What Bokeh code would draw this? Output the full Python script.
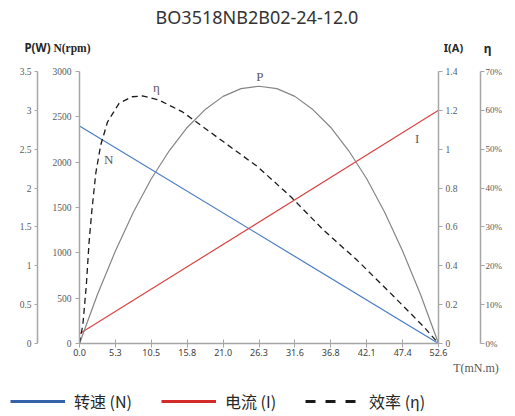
from bokeh.plotting import figure
from bokeh.layouts import column
from bokeh.models import Range1d, LinearAxis, FixedTicker, Label, Legend, LegendItem
from bokeh.core.properties import value
from bokeh.embed import file_html
from bokeh.resources import INLINE

# ---------------- data ----------------
title_text = "BO3518NB2B02-24-12.0"

x_ticks = [0, 5.26, 10.52, 15.78, 21.04, 26.3, 31.56, 36.82, 42.08, 47.34, 52.6]
x_tick_labels = ["0.0", "5.3", "10.5", "15.8", "21.0", "26.3", "31.6", "36.8", "42.1", "47.4", "52.6"]

speed_T = [0.0, 52.6]
speed_rpm = [2400, 0]

current_T = [0.0, 52.6]
current_A = [0.05, 1.2]

power_T = [0, 2.63, 5.26, 7.89, 10.52, 13.15, 15.78, 18.41, 21.04, 23.67, 26.3,
           28.93, 31.56, 34.19, 36.82, 39.45, 42.08, 44.71, 47.34, 49.97, 52.6]
power_W = [0, 0.63, 1.19, 1.69, 2.12, 2.48, 2.78, 3.01, 3.18, 3.28, 3.31,
           3.28, 3.18, 3.01, 2.78, 2.48, 2.12, 1.69, 1.19, 0.63, 0]

eff_T = [0, 0.5, 1.0, 1.4, 1.8, 2.4, 3.1, 4.1, 5.8, 7.7, 9.2, 11.6, 15.1,
         21.1, 26.1, 31.0, 35.8, 40.7, 45.6, 50.5, 52.6]
eff_pct = [0, 5, 15, 26, 34, 44, 51, 57, 61.8, 63.5, 63.7, 62.7, 59.6,
           51.9, 45.5, 37.7, 29.1, 21.4, 12.9, 4.2, 0]

n_ticks = [0, 500, 1000, 1500, 2000, 2500, 3000]
n_tick_labels = ["0", "500", "1000", "1500", "2000", "2500", "3000"]
p_ticks = [0, 0.5, 1, 1.5, 2, 2.5, 3, 3.5]
p_tick_labels = ["0", "0.5", "1", "1.5", "2", "2.5", "3", "3.5"]
i_ticks = [0, 0.2, 0.4, 0.6, 0.8, 1, 1.2, 1.4]
i_tick_labels = ["0", "0.2", "0.4", "0.6", "0.8", "1", "1.2", "1.4"]
eta_ticks = [0, 10, 20, 30, 40, 50, 60, 70]
eta_tick_labels = ["0%", "10%", "20%", "30%", "40%", "50%", "60%", "70%"]

legend_labels = ["转速 (N)", "电流 (I)", "效率 (η)"]

# ---------------- layout constants (pixels) ----------------
W = 515
TOP_H, MAIN_H, BOT_H = 61, 300, 55
FRAME_L, FRAME_R, FRAME_T, FRAME_B = 79, 438, 71, 343

AXIS_COLOR = "#a6a6a6"
LABEL_COLOR = "#595959"
DARK = "#262626"
SERIF = "Liberation Serif"


def bare_figure(height, y_top, y_bottom):
    f = figure(width=W, height=height, output_backend="svg", toolbar_location=None,
               x_range=Range1d(0, W), y_range=Range1d(y_bottom, y_top),
               x_axis_type=None, y_axis_type=None, min_border=0, frame_align=False,
               background_fill_color="white", border_fill_color="white")
    f.outline_line_color = None
    f.grid.visible = False
    return f


def pixel_text(fig, txt, px, py, font, size, color, style="normal", align="center"):
    fig.add_layout(Label(x=px, y=py, text=txt, text_font=font, text_font_size=size,
                         text_color=color, text_font_style=style, text_align=align,
                         text_baseline="middle"))


# ---------------- top strip: title and axis headings ----------------
top = bare_figure(TOP_H, 0, TOP_H)
pixel_text(top, title_text, 256.5, 16, "Noto Sans", "18px", "#333333")
pixel_text(top, "P(W)", 37, 47, "Noto Sans", "11.5px", DARK, "bold")
pixel_text(top, "N(rpm)", 71.5, 47, SERIF, "11.5px", DARK, "bold")
pixel_text(top, "I(A)", 453, 47, "Noto Sans", "11px", DARK, "bold")
pixel_text(top, "η", 487, 48, "Noto Sans", "12px", DARK, "bold")

# ---------------- main chart ----------------
p = figure(width=W, height=MAIN_H, output_backend="svg", toolbar_location=None,
           x_range=Range1d(0, 52.6), y_range=Range1d(0, 3000), frame_align=False,
           min_border_left=FRAME_L, min_border_right=W - FRAME_R,
           min_border_top=FRAME_T - TOP_H, min_border_bottom=TOP_H + MAIN_H - FRAME_B,
           background_fill_color="white", border_fill_color="white")
p.outline_line_color = None
p.xgrid.visible = False
p.ygrid.visible = False
p.extra_y_ranges = {"pw": Range1d(0, 3.5), "cur": Range1d(0, 1.4), "eta": Range1d(0, 70)}


def style_axis(ax, ticks, labels, tick_out, standoff, font=SERIF, size="9.5px"):
    ax.ticker = FixedTicker(ticks=ticks)
    ax.major_label_overrides = dict(zip(ticks, labels))
    ax.axis_line_color = AXIS_COLOR
    ax.axis_line_width = 1.5
    ax.major_tick_line_color = AXIS_COLOR
    ax.major_tick_line_width = 1
    ax.major_tick_out = tick_out
    ax.major_tick_in = 0
    ax.minor_tick_line_color = None
    ax.minor_tick_out = 0
    ax.minor_tick_in = 0
    ax.major_label_text_font = font
    ax.major_label_text_font_size = size
    ax.major_label_text_color = LABEL_COLOR
    ax.major_label_standoff = standoff


def spacer(ax, gap):
    ax.axis_label = " "
    ax.axis_label_text_font_size = "1px"
    ax.axis_label_standoff = gap


xax = p.xaxis[0]
style_axis(xax, x_ticks, x_tick_labels, 4, 1, font="Noto Sans", size="9px")
xax.major_tick_in = 4
xax.major_label_text_color = "#404040"

nax = p.yaxis[0]
style_axis(nax, n_ticks, n_tick_labels, 4, 4)
spacer(nax, 8)

pax = LinearAxis(y_range_name="pw")
style_axis(pax, p_ticks, p_tick_labels, 3, 3)
p.add_layout(pax, "left")

iax = LinearAxis(y_range_name="cur")
style_axis(iax, i_ticks, i_tick_labels, 4, 3)
spacer(iax, 16)
p.add_layout(iax, "right")

eax = LinearAxis(y_range_name="eta")
style_axis(eax, eta_ticks, eta_tick_labels, 4, 1, size="9px")
p.add_layout(eax, "right")

p.line(speed_T, speed_rpm, line_color="#4a7cc4", line_width=1.2)
p.line(current_T, current_A, y_range_name="cur", line_color="#d94545", line_width=1.2)
p.line(power_T, power_W, y_range_name="pw", line_color="#858585", line_width=1.2)
p.line(eff_T, eff_pct, y_range_name="eta", line_color="#1a1a1a", line_width=1.3,
       line_dash="6 4")


def fx(px):
    return (px - FRAME_L) / (FRAME_R - FRAME_L) * 52.6


def fy(py):
    return (FRAME_B - py) / (FRAME_B - FRAME_T) * 3000


for txt, px, py in [("η", 156, 87), ("P", 259.3, 75.5), ("N", 108.3, 159.3), ("I", 416.7, 138.3)]:
    p.add_layout(Label(x=fx(px), y=fy(py), text=txt, text_font=SERIF, text_font_size="13px",
                       text_color=LABEL_COLOR, text_align="center", text_baseline="middle"))

# ---------------- bottom strip: axis title and legend ----------------
y0 = TOP_H + MAIN_H
bot = bare_figure(BOT_H, y0, y0 + BOT_H)
pixel_text(bot, "T(mN.m)", 475.5, 367, SERIF, "12px", LABEL_COLOR)

# legend proxies: drawn off-canvas, only their legend swatches are visible
off_x = [-100, -90]
off_y = [0, 0]
lg_n = bot.line(off_x, off_y, line_color="#3563a9", line_width=2.8)
lg_i = bot.line(off_x, off_y, line_color="#d42a2a", line_width=2.8)
lg_e = bot.line(off_x, off_y, line_color="#1a1a1a", line_width=3, line_dash="10 10")
legend = Legend(items=[LegendItem(label=value(legend_labels[0]), renderers=[lg_n]),
                       LegendItem(label=value(legend_labels[1]), renderers=[lg_i]),
                       LegendItem(label=value(legend_labels[2]), renderers=[lg_e])],
                orientation="horizontal", location=(10, 3),
                glyph_width=55, glyph_height=20, label_height=20, label_standoff=9,
                spacing=29, padding=0, margin=0, border_line_color=None,
                background_fill_alpha=0, label_text_font="Noto Sans CJK SC",
                label_text_font_size="16px", label_text_color=DARK)
bot.add_layout(legend)

layout = column(top, p, bot, spacing=0)
open("out.html", "w").write(file_html(layout, INLINE))
